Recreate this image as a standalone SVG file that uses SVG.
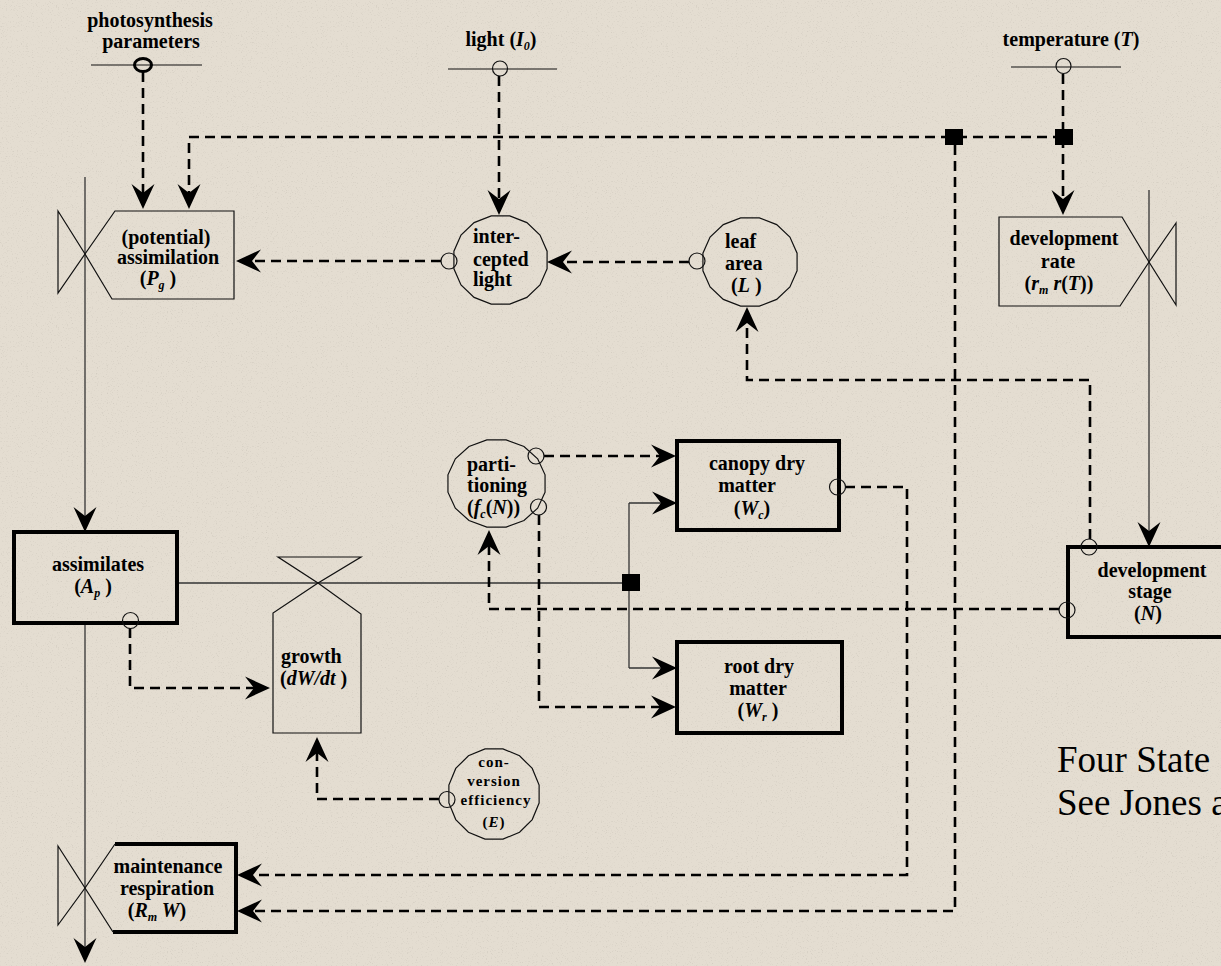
<svg xmlns="http://www.w3.org/2000/svg" xmlns:xlink="http://www.w3.org/1999/xlink" width="1221" height="966" viewBox="0 0 1221 966">
  <defs>
    <style>
      .t { font-family: "Liberation Serif", "Times New Roman", serif; font-weight: bold; font-size: 20px; fill: #000; }
      .s { font-family: "Liberation Serif", "Times New Roman", serif; font-weight: bold; font-size: 15px; letter-spacing: 1px; fill: #000; }
      .note { font-family: "Liberation Serif", "Times New Roman", serif; font-size: 37px; fill: #000; }
      .i { font-style: italic; }
      .sub { font-size: 12px; }
      .thin { fill: none; stroke: #111; stroke-width: 1.2; }
      .state { fill: none; stroke: #000; stroke-width: 4; }
      .aux { fill: none; stroke: #111; stroke-width: 1.2; }
      .dash { fill: none; stroke: #000; stroke-width: 2.6; stroke-dasharray: 10 6; marker-end: url(#ah); }
      .flow { fill: none; stroke: #333; stroke-width: 1.3; }
      .flow-arrow { fill: none; stroke: #333; stroke-width: 1.3; marker-end: url(#ah); }
      .port { fill: none; stroke: #111; stroke-width: 1.2; }
      .junction { fill: #000; }
    </style>
    <!-- barbed arrowhead; tip sits 4px past the path end -->
    <marker id="ah" viewBox="-30 -14 34 28" markerWidth="34" markerHeight="28" refX="-4" refY="0" orient="auto" markerUnits="userSpaceOnUse">
      <path d="M0,0 L-25,-11.5 L-16,0 L-25,11.5 Z" fill="#000" stroke="none"/>
    </marker>
    <!-- unit 16-gon used for auxiliary (circle) variables -->
    <polygon id="auxShape" vector-effect="non-scaling-stroke" fill="none" stroke="#111" stroke-width="1.2" points="0.9808,0.1951 0.8315,0.5556 0.5556,0.8315 0.1951,0.9808 -0.1951,0.9808 -0.5556,0.8315 -0.8315,0.5556 -0.9808,0.1951 -0.9808,-0.1951 -0.8315,-0.5556 -0.5556,-0.8315 -0.1951,-0.9808 0.1951,-0.9808 0.5556,-0.8315 0.8315,-0.5556 0.9808,-0.1951"/>
    <filter id="grain" x="0" y="0" width="100%" height="100%">
      <feTurbulence type="fractalNoise" baseFrequency="0.8" numOctaves="2" seed="7" result="n"/>
      <feColorMatrix in="n" type="matrix" values="0 0 0 0 0.42  0 0 0 0 0.39  0 0 0 0 0.34  3 0 0 0 -1.75"/>
    </filter>
  </defs>

  <!-- paper background -->
  <rect width="1221" height="966" fill="#e4ddd1"/>
  <rect width="1221" height="966" filter="url(#grain)" opacity="0.35"/>

  <!-- connectors -->
  <g id="connectors">
    <!-- material flows -->
    <path class="flow-arrow" d="M85,177 V528"/>
    <path class="flow-arrow" d="M85,623 V959"/>
    <path class="flow" d="M177,583 H622"/>
    <path class="flow" d="M629,503 V668"/>
    <path class="flow-arrow" d="M629,503 H673"/>
    <path class="flow-arrow" d="M629,668 H673"/>
    <path class="flow-arrow" d="M1149,190 V543"/>

    <!-- information links -->
    <path class="dash" d="M143,72 V205"/>
    <path class="dash" d="M1063,137 H189 V205"/>
    <path class="dash" d="M499,76 V211"/>
    <path class="dash" d="M441,261 H240"/>
    <path class="dash" d="M689,262 H551"/>
    <path class="dash" d="M1063,74 V211"/>
    <path class="dash" d="M955,145 V911 H241"/>
    <path class="dash" d="M845,487 H907 V875 H241"/>
    <path class="dash" d="M1090,539 V380 H747 V311"/>
    <path class="dash" d="M1059,609 H489 V534"/>
    <path class="dash" d="M544,456 H672"/>
    <path class="dash" d="M539,515 V707 H672"/>
    <path class="dash" d="M130,628 V688 H266"/>
    <path class="dash" d="M439,799 H317 V741"/>

    <!-- junctions -->
    <rect class="junction" x="945" y="129" width="18" height="16"/>
    <rect class="junction" x="1055" y="129" width="18" height="16"/>
    <rect class="junction" x="622" y="574" width="18" height="17"/>
  </g>

  <!-- external drivers -->
  <g id="photosynthesis-parameters">
    <line class="thin" x1="91" y1="65" x2="202" y2="65"/>
    <ellipse cx="143" cy="65" rx="8.5" ry="6.5" fill="none" stroke="#000" stroke-width="3"/>
    <text class="t" x="150" y="27" text-anchor="middle">photosynthesis</text>
    <text class="t" x="151" y="48" text-anchor="middle">parameters</text>
  </g>

  <g id="light">
    <line class="thin" x1="448" y1="69" x2="557" y2="69"/>
    <circle class="port" cx="500" cy="68.5" r="7.5"/>
    <text class="t" x="501" y="46" text-anchor="middle">light (<tspan class="i">I</tspan><tspan class="i sub" dy="4">0</tspan><tspan dy="-4">)</tspan></text>
  </g>

  <g id="temperature">
    <line class="thin" x1="1011" y1="67" x2="1121" y2="67"/>
    <circle class="port" cx="1063.5" cy="66" r="7.5"/>
    <text class="t" x="1071" y="46" text-anchor="middle">temperature (<tspan class="i">T</tspan>)</text>
  </g>

  <!-- rate: potential assimilation -->
  <g id="potential-assimilation">
    <path class="thin" d="M115,211 H234 V299 H112 L85,254 Z"/>
    <path class="thin" d="M58,211 L85,254 L58,293 Z"/>
    <text class="t" x="166" y="244" text-anchor="middle">(potential)</text>
    <text class="t" x="168" y="264" text-anchor="middle">assimilation</text>
    <text class="t" x="158" y="285" text-anchor="middle">(<tspan class="i">P</tspan><tspan class="i sub" dy="4">g</tspan><tspan dy="-4"> )</tspan></text>
  </g>

  <!-- auxiliary: intercepted light -->
  <g id="intercepted-light">
    <use xlink:href="#auxShape" transform="translate(500.5,260) scale(47.5,45)"/>
    <circle class="port" cx="449" cy="261" r="8"/>
    <text class="t" x="473" y="243">inter-</text>
    <text class="t" x="473" y="266">cepted</text>
    <text class="t" x="473" y="286">light</text>
  </g>

  <!-- auxiliary: leaf area -->
  <g id="leaf-area">
    <use xlink:href="#auxShape" transform="translate(750,262) scale(48,45)"/>
    <circle class="port" cx="697" cy="261" r="8"/>
    <text class="t" x="725" y="248">leaf</text>
    <text class="t" x="725" y="270">area</text>
    <text class="t" x="731" y="292">(<tspan class="i">L</tspan> )</text>
  </g>

  <!-- rate: development rate -->
  <g id="development-rate">
    <path class="thin" d="M999,217 H1122 L1149,262 L1120,306 H999 Z"/>
    <path class="thin" d="M1176,223 L1149,262 L1176,305 Z"/>
    <text class="t" x="1064" y="245" text-anchor="middle">development</text>
    <text class="t" x="1058" y="268" text-anchor="middle">rate</text>
    <text class="t" x="1059" y="290" text-anchor="middle">(<tspan class="i">r</tspan><tspan class="i sub" dy="4">m</tspan><tspan class="i" dy="-4"> r</tspan>(<tspan class="i">T</tspan>))</text>
  </g>

  <!-- auxiliary: partitioning -->
  <g id="partitioning">
    <use xlink:href="#auxShape" transform="translate(496.5,483.5) scale(49.5,44.5)"/>
    <circle class="port" cx="536" cy="456" r="8"/>
    <circle class="port" cx="538.5" cy="507" r="8"/>
    <text class="t" x="467" y="471">parti-</text>
    <text class="t" x="467" y="492">tioning</text>
    <text class="t" x="467" y="514">(<tspan class="i">f</tspan><tspan class="i sub" dy="4">c</tspan><tspan dy="-4">(</tspan><tspan class="i">N</tspan>))</text>
  </g>

  <!-- state: canopy dry matter -->
  <g id="canopy-dry-matter">
    <rect class="state" x="677" y="441" width="162" height="89"/>
    <circle class="port" cx="837.5" cy="487" r="8"/>
    <text class="t" x="757" y="470" text-anchor="middle">canopy dry</text>
    <text class="t" x="747" y="492" text-anchor="middle">matter</text>
    <text class="t" x="752" y="515" text-anchor="middle">(<tspan class="i">W</tspan><tspan class="i sub" dy="4">c</tspan><tspan dy="-4">)</tspan></text>
  </g>

  <!-- state: root dry matter -->
  <g id="root-dry-matter">
    <rect class="state" x="677" y="642" width="165" height="91"/>
    <text class="t" x="759" y="673" text-anchor="middle">root dry</text>
    <text class="t" x="758" y="695" text-anchor="middle">matter</text>
    <text class="t" x="758" y="717" text-anchor="middle">(<tspan class="i">W</tspan><tspan class="i sub" dy="4">r</tspan><tspan dy="-4"> )</tspan></text>
  </g>

  <!-- state: assimilates -->
  <g id="assimilates">
    <rect class="state" x="14" y="532" width="163" height="91"/>
    <circle class="port" cx="130.5" cy="620.5" r="8"/>
    <text class="t" x="98" y="571" text-anchor="middle">assimilates</text>
    <text class="t" x="93" y="593" text-anchor="middle">(<tspan class="i">A</tspan><tspan class="i sub" dy="4">p</tspan><tspan dy="-4"> )</tspan></text>
  </g>

  <!-- rate: growth -->
  <g id="growth">
    <path class="thin" d="M278,557 H361 L318,583 Z"/>
    <path class="thin" d="M318,583 L361,614 V733 H273 V613 Z"/>
    <text class="t" x="281" y="663">growth</text>
    <text class="t" x="280" y="685">(<tspan class="i">dW/dt</tspan> )</text>
  </g>

  <!-- auxiliary: conversion efficiency -->
  <g id="conversion-efficiency">
    <use xlink:href="#auxShape" transform="translate(494,794) scale(46,46)"/>
    <circle class="port" cx="447" cy="799.5" r="8"/>
    <text class="s" x="494" y="767" text-anchor="middle">con-</text>
    <text class="s" x="494" y="786" text-anchor="middle">version</text>
    <text class="s" x="496" y="805" text-anchor="middle">efficiency</text>
    <text class="s" x="494" y="827" text-anchor="middle">(<tspan class="i">E</tspan>)</text>
  </g>

  <!-- rate: maintenance respiration -->
  <g id="maintenance-respiration">
    <path class="state" d="M115,844 H236 V932 H113"/>
    <path class="thin" d="M115,844 L85,888 L113,932"/>
    <path class="thin" d="M58,846 L85,888 L58,925 Z"/>
    <text class="t" x="168" y="873" text-anchor="middle">maintenance</text>
    <text class="t" x="167" y="895" text-anchor="middle">respiration</text>
    <text class="t" x="157" y="917" text-anchor="middle">(<tspan class="i">R</tspan><tspan class="i sub" dy="4">m</tspan><tspan class="i" dy="-4"> W</tspan>)</text>
  </g>

  <!-- state: development stage -->
  <g id="development-stage">
    <rect class="state" x="1068" y="547" width="200" height="90"/>
    <circle class="port" cx="1089" cy="547" r="8"/>
    <circle class="port" cx="1067" cy="610" r="8"/>
    <text class="t" x="1152" y="577" text-anchor="middle">development</text>
    <text class="t" x="1150" y="598" text-anchor="middle">stage</text>
    <text class="t" x="1148" y="620" text-anchor="middle">(<tspan class="i">N</tspan>)</text>
  </g>

  <!-- caption -->
  <g id="caption">
    <text class="note" x="1057" y="772">Four State</text>
    <text class="note" x="1057" y="815">See Jones a</text>
  </g>
</svg>
